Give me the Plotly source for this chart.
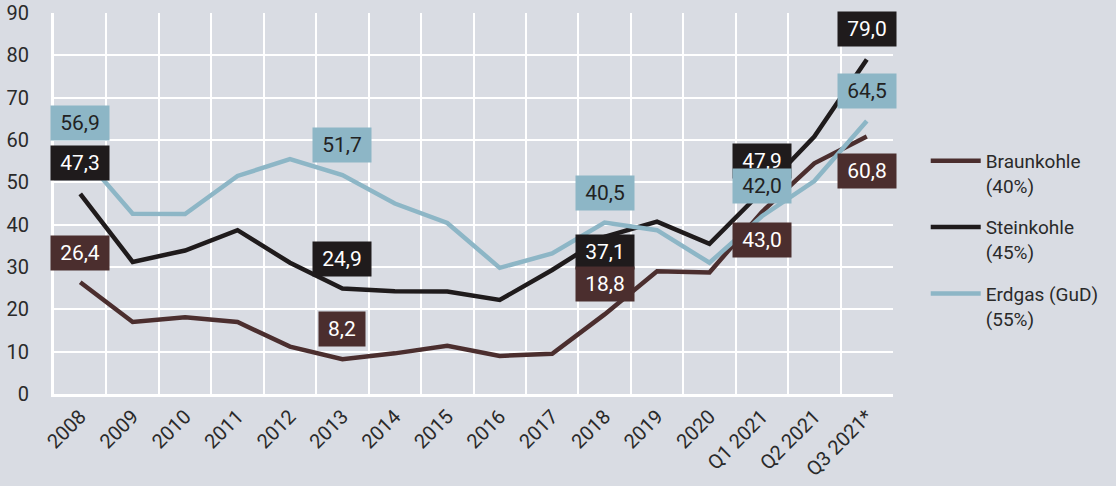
import plotly.graph_objects as go

categories = ["2008", "2009", "2010", "2011", "2012", "2013", "2014", "2015",
              "2016", "2017", "2018", "2019", "2020", "Q1 2021", "Q2 2021", "Q3 2021*"]
braunkohle = [26.4, 17.0, 18.1, 17.0, 11.2, 8.2, 9.6, 11.4, 9.0, 9.5, 18.8, 29.0, 28.7, 43.0, 54.5, 60.8]
steinkohle = [47.3, 31.2, 33.9, 38.7, 31.0, 24.9, 24.3, 24.2, 22.2, 29.3, 37.1, 40.7, 35.5, 47.9, 60.8, 79.0]
erdgas = [56.9, 42.6, 42.5, 51.5, 55.5, 51.7, 45.0, 40.4, 29.8, 33.2, 40.5, 38.7, 31.0, 42.0, 50.3, 64.5]
y_ticks = [0, 10, 20, 30, 40, 50, 60, 70, 80, 90]

BG = "#d9dce3"
FONT = "Roboto"
series = [
    ("Braunkohle<br>(40%)", braunkohle, "#4b2e2e", "white"),
    ("Steinkohle<br>(45%)", steinkohle, "#1f1b1c", "white"),
    ("Erdgas (GuD)<br>(55%)", erdgas, "#8db6c6", "#222222"),
]

# label placement: (series index, category index, vertical pixel shift)
labels = [
    (2, 0, 30), (1, 0, 31), (0, 0, 29),
    (2, 5, 30), (1, 5, 30), (0, 5, 30),
    (2, 10, 30), (1, 10, -15), (0, 10, 30),
    (1, 13, 30), (2, 13, 30), (0, 13, -28),
    (1, 15, 31), (2, 15, 30), (0, 15, -34),
]

fig = go.Figure()
for i, (name, vals, color, _) in enumerate(series):
    fig.add_trace(go.Scatter(
        x=categories, y=vals, mode="lines", name=name,
        line=dict(color=color, width=4.5), legendgroup=f"g{i}",
    ))

for si, ci, shift in labels:
    name, vals, color, tcolor = series[si]
    txt = f"{vals[ci]:.1f}".replace(".", ",")
    fig.add_annotation(
        x=ci, y=vals[ci], yshift=shift, text=txt, showarrow=False,
        bgcolor=color, font=dict(family=FONT, size=21, color=tcolor),
        width=58 if len(txt) > 3 else 46, height=34, borderpad=0,
    )

fig.update_layout(
    width=1116, height=486,
    paper_bgcolor=BG, plot_bgcolor=BG,
    margin=dict(l=54, r=221, t=13, b=92),
    font=dict(family=FONT, size=20, color="#2a2a2a"),
    legend=dict(
        x=1.039, y=0.662, xanchor="left", yanchor="top",
        valign="top", tracegroupgap=14, itemwidth=50,
        font=dict(family=FONT, size=19, color="#2a2a2a"),
        bgcolor="rgba(0,0,0,0)",
    ),
)
fig.update_xaxes(
    type="category", range=[-0.5, len(categories) - 0.5], automargin=False,
    tickson="boundaries", showgrid=True, gridcolor="white", gridwidth=2,
    showline=True, linecolor="white", linewidth=3, tickangle=-45, ticks="",
    tickfont=dict(family=FONT, size=20, color="#2a2a2a"),
)
fig.update_yaxes(
    range=[0, 90], tickvals=y_ticks, automargin=False,
    showgrid=True, gridcolor="white", gridwidth=2,
    showline=True, linecolor="white", linewidth=3, zeroline=False, ticks="",
    ticklabelstandoff=18,
    tickfont=dict(family=FONT, size=20, color="#2a2a2a"),
)

fig.write_html(
    "out.html",
    config={"displayModeBar": False},
    post_script="document.body.style.margin='0';document.body.style.background='%s';" % BG,
)
